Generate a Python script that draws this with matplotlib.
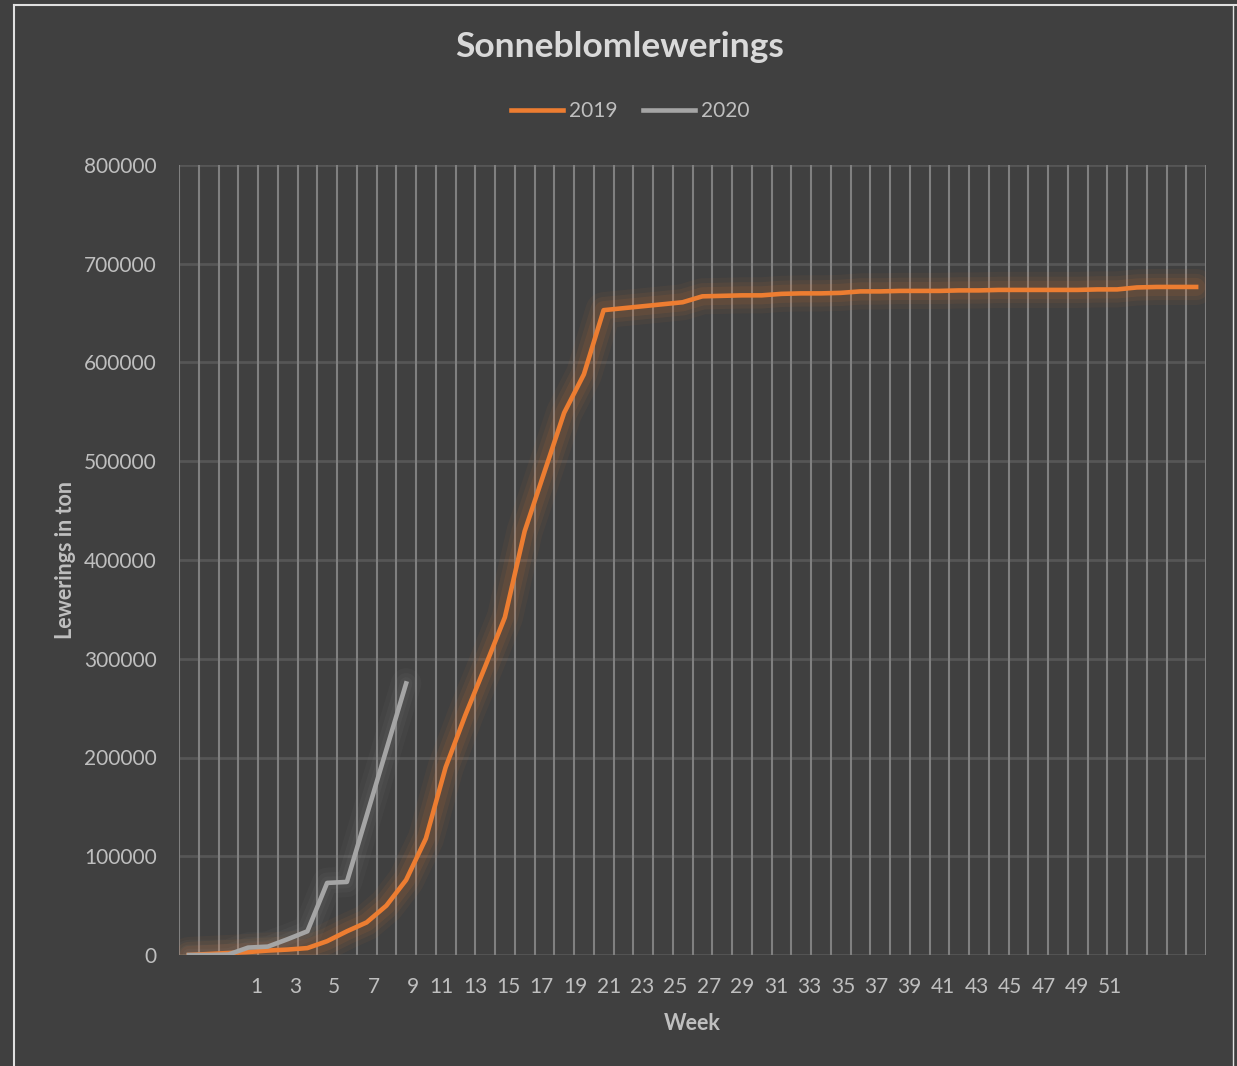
import matplotlib
matplotlib.use("Agg")
import matplotlib.pyplot as plt
from matplotlib.lines import Line2D

plt.rcParams['font.family'] = ['Lato', 'DejaVu Sans']

# weekly cumulative deliveries (ton)
lewer_2019 = [0, 1000, 2000, 3000, 4500, 5500, 7000, 14000, 24000, 33000,
              50000, 76000, 118000, 190000, 243000, 292000, 342000, 429000, 489000, 549000,
              588000, 653000, 655000, 657000, 659000, 661000, 667000, 667500, 668000, 668000,
              669500, 670000, 670000, 670500, 672000, 672000, 672500, 672500, 672500, 673000,
              673000, 673500, 673500, 673500, 673500, 673500, 674000, 674000, 676000, 676500,
              676500, 676500]
lewer_2020 = [0, 0, 500, 7500, 8500, 16000, 24000, 73000, 74000, 141000, 208000, 275000]

week_labels = [1, 3, 5, 7, 9, 11, 13, 15, 17, 19, 21, 23, 25, 27, 29, 31, 33, 35,
               37, 39, 41, 43, 45, 47, 49, 51]
# where the (oddly spaced) category labels sit, in category units
label_pos = [3.40, 5.37, 7.35, 9.37, 11.36, 12.80, 14.49, 16.18, 17.87, 19.57,
             21.26, 22.95, 24.64, 26.34, 28.03, 29.73, 31.42, 33.11, 34.81, 36.50,
             38.19, 39.89, 41.58, 43.27, 44.97, 46.66]

bg = '#404040'
txt = '#bfbfbf'
oranje = '#ed7d31'
grys = '#a5a5a5'

fig = plt.figure(figsize=(12.37, 10.66), dpi=100, facecolor=bg)
ax = fig.add_axes([179/1237, 1-955/1066, 1027/1237, 790/1066])
ax.set_facecolor(bg)

n = len(lewer_2019)
x19 = list(range(n))
x20 = list(range(len(lewer_2020)))

# gridlines
for k in range(n + 1):
    ax.axvline(k - 0.5, color='#808080', lw=1.5, zorder=1)
for v in range(0, 800001, 100000):
    ax.axhline(v, color='#565656', lw=2, zorder=0.5)

# glow
for w, a in [(26, 0.05), (19, 0.07), (13, 0.09)]:
    ax.plot(x19, lewer_2019, color=oranje, lw=w, alpha=a, solid_joinstyle='round',
            solid_capstyle='round', zorder=2)
for w, a in [(22, 0.04), (15, 0.05), (9, 0.05)]:
    ax.plot(x20, lewer_2020, color='#b0b0b0', lw=w, alpha=a, solid_joinstyle='round',
            solid_capstyle='round', zorder=2)

ax.plot(x19, lewer_2019, color=oranje, lw=3.3, label='2019', zorder=3)
ax.plot(x20, lewer_2020, color=grys, lw=3.3, label='2020', zorder=4)

ax.set_xlim(-0.5, n - 0.5)
ax.set_ylim(0, 800000)
ax.set_yticks(range(0, 800001, 100000))
ax.set_yticklabels([str(v) for v in range(0, 800001, 100000)])
ax.set_xticks(label_pos)
ax.set_xticklabels([str(w) for w in week_labels])
ax.tick_params(axis='both', length=0, colors=txt, labelsize=15)
ax.tick_params(axis='x', pad=16)
ax.tick_params(axis='y', pad=16)
for s in ax.spines.values():
    s.set_visible(False)

ax.set_xlabel('Week', color=txt, fontsize=15.5, fontweight='bold', labelpad=11)
ax.set_ylabel('Lewerings in ton', color=txt, fontsize=15.5, fontweight='bold', labelpad=6)

fig.text(620/1237, 1-47/1066, 'Sonneblomlewerings', color='#d9d9d9', fontsize=25.5,
         fontweight='bold', ha='center', va='center')

leg = fig.legend(loc='center', bbox_to_anchor=(630/1237, 1-111/1066), ncol=2,
                 frameon=False, fontsize=15, labelcolor=txt, handlelength=2.5,
                 handletextpad=0.3, columnspacing=1.2)
for h in leg.get_lines():
    h.set_linewidth(3.3)

# outer frame of the original screenshot
fig.add_artist(Line2D([14/1237, 1], [1-5/1066, 1-5/1066], color='#e0e0e0', lw=1.5))
fig.add_artist(Line2D([14/1237, 14/1237], [0, 1-5/1066], color='#e0e0e0', lw=1.5))
fig.add_artist(Line2D([1233/1237, 1233/1237], [0, 1-5/1066], color='#e0e0e0', lw=1.0))

fig.savefig('out.png', dpi=100, facecolor=bg)
